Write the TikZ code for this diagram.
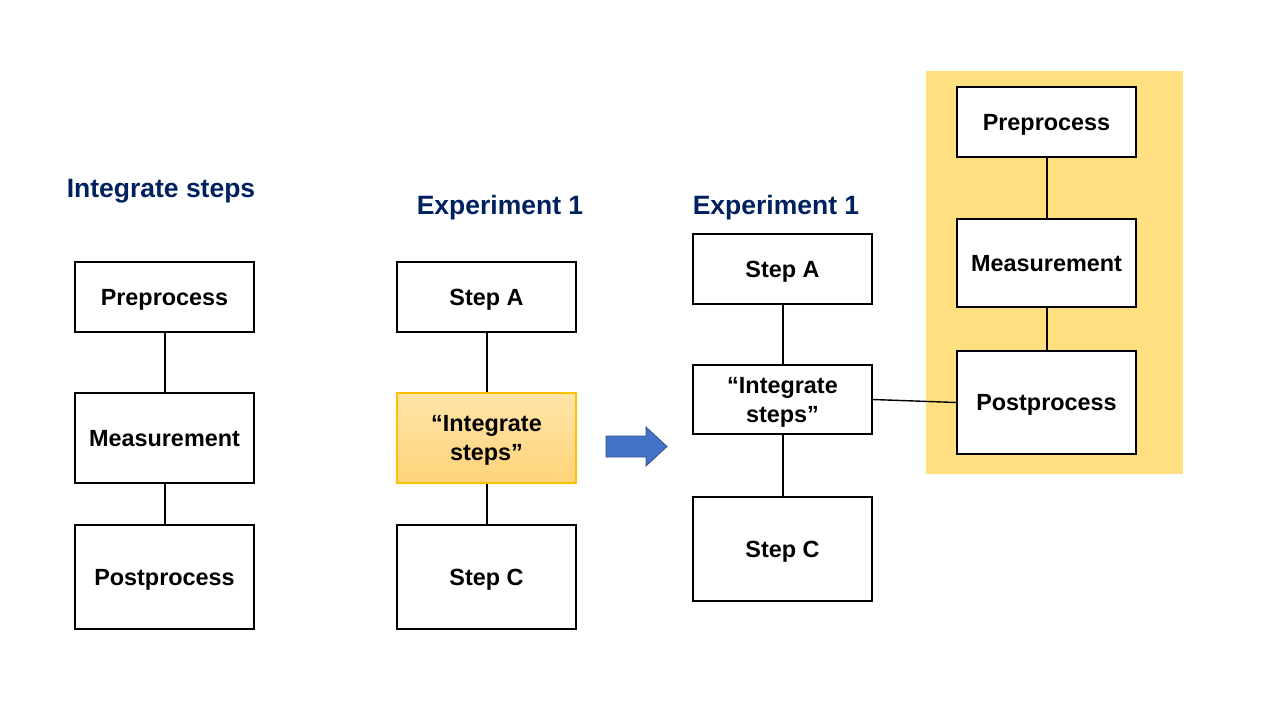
\documentclass[tikz,border=0pt]{standalone}
\usepackage{fontspec}
\setmainfont{Liberation Sans}
\definecolor{navy}{HTML}{002060}
\definecolor{gold}{HTML}{FFDF80}
\definecolor{orangeborder}{HTML}{FFC000}
\definecolor{gradtop}{HTML}{FFE4A8}
\definecolor{gradbot}{HTML}{FFD37A}
\definecolor{arrowblue}{HTML}{4472C4}
\definecolor{arrowedge}{HTML}{2F528F}
\begin{document}
\begin{tikzpicture}[x=1pt,y=-1pt,
  box/.style={draw=black,line width=1.2pt,fill=white,minimum width=179pt,inner sep=0pt,align=center,
    text height=16.8pt,text depth=0pt,
    font=\fontsize{23.4pt}{29pt}\selectfont\bfseries},
  twoline/.style={text height=45.8pt,text depth=0pt},
  title/.style={text=navy,font=\fontsize{26.5pt}{30pt}\selectfont\bfseries,inner sep=0pt,
    text height=19pt,text depth=0pt},
  link/.style={line width=2pt,draw=black}]
\useasboundingbox (0,0) rectangle (1280,720);
% yellow panel
\fill[gold] (926,71) rectangle (1183,474);
% titles
\node[title] (t1) at (161,188) {Integrate steps};
\node[title] (t2) at (500,205) {Experiment 1};
\node[title] (t3) at (776,205) {Experiment 1};
% left column
\node[box,minimum height=70pt] (lp) at (164.5,297) {Preprocess};
\node[box,minimum height=90pt] (lm) at (164.5,438) {Measurement};
\node[box,minimum height=104pt] (lq) at (164.5,577) {Postprocess};
\draw[link] (lp) -- (lm);
\draw[link] (lm) -- (lq);
% middle column
\node[box,twoline,minimum height=90pt,draw=orangeborder,top color=gradtop,bottom color=gradbot] (mi) at (486.5,438) {“Integrate\\steps”};
\node[box,minimum height=70pt] (ma) at (486.5,297) {Step A};
\node[box,minimum height=104pt] (mc) at (486.5,577) {Step C};
\draw[link] (ma) -- (mi);
\draw[link] (mi) -- (mc);
% arrow
\draw[draw=arrowedge,fill=arrowblue,line width=0.8pt,line join=miter]
  (606,436) -- (646,436) -- (646,427) -- (667,446.5) -- (646,466) -- (646,457) -- (606,457) -- cycle;
% right column
\node[box,minimum height=70pt] (ra) at (782.5,269) {Step A};
\node[box,twoline,minimum height=69pt] (ri) at (782.5,399.5) {“Integrate\\steps”};
\node[box,minimum height=104pt] (rc) at (782.5,549) {Step C};
\draw[link] (ra) -- (ri);
\draw[link] (ri) -- (rc);
% panel column
\node[box,minimum height=70pt] (pp) at (1046.5,122) {Preprocess};
\node[box,minimum height=88pt] (pm) at (1046.5,263) {Measurement};
\node[box,minimum height=103pt] (pq) at (1046.5,402.5) {Postprocess};
\draw[link] (pp) -- (pm);
\draw[link] (pm) -- (pq);
\draw[line width=1.4pt] (ri.east) -- (pq.west);
\end{tikzpicture}
\end{document}
